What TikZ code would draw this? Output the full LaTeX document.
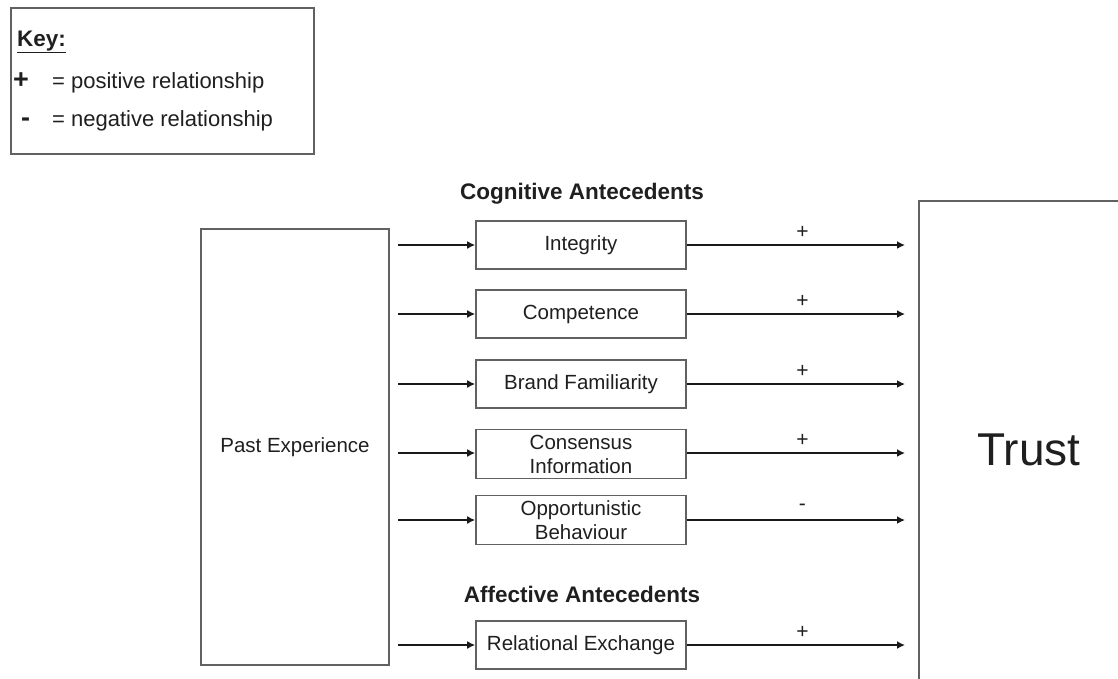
\documentclass[tikz,border=0pt]{standalone}
\usepackage{fontspec}
\setmainfont{Liberation Sans}
\usetikzlibrary{arrows.meta,calc}
\begin{document}
\begin{tikzpicture}[x=1pt,y=-1pt,
  every node/.style={text=black!88},
  boxline/.style={draw=black!62,line width=1.6pt},
  boxfont/.style={font=\fontsize{20.5}{24}\selectfont},
  midbox/.style={boxline,boxfont,minimum width=210pt,minimum height=48pt,inner sep=0pt,align=center},
  arr/.style={line width=2.4pt,black!90,-{Latex[length=8pt,width=8pt]}},
  sign/.style={font=\fontsize{21}{21}\selectfont},
  head/.style={font=\fontsize{22.5}{24}\selectfont\bfseries}]
\useasboundingbox (0,0) rectangle (1118,678);
% key
\node[boxline,minimum width=303pt,minimum height=146pt,anchor=north west] (key) at (10,7) {};
\node[anchor=west,inner sep=0pt,font=\fontsize{22.5}{24}\selectfont\bfseries] (keyt) at (17,42) {\underline{Key:}};
\node[anchor=base west,inner sep=0pt,font=\fontsize{27}{28}\selectfont\bfseries] (kps) at (13,88) {+};
\node[anchor=base west,inner sep=0pt,font=\fontsize{22}{24}\selectfont] (kp) at (52,88) {= positive relationship};
\node[anchor=base west,inner sep=0pt,font=\fontsize{27}{28}\selectfont\bfseries] (kns) at (21,126) {-};
\node[anchor=base west,inner sep=0pt,font=\fontsize{22}{24}\selectfont] (kn) at (52,126) {= negative relationship};
% past experience
\node[boxline,boxfont,minimum width=188pt,minimum height=436pt] (past) at (295,447) {Past Experience};
% trust
\draw[boxline] (1125,201) -- (919,201) -- (919,685);
\node[font=\fontsize{46}{46}\selectfont] (trust) at (1029,450) {Trust};
% headings
\node[head] (cog) at (582,194) {Cognitive Antecedents};
\node[head] (aff) at (582,594) {Affective Antecedents};
% middle boxes
\node[midbox] (int) at (581,245) {Integrity};
\node[midbox] (com) at (581,314) {Competence};
\node[midbox] (bra) at (581,384) {Brand Familiarity};
\node[midbox,minimum height=49pt] (con) at (581,454) {Consensus\\Information};
\node[midbox,minimum height=49pt] (opp) at (581,520) {Opportunistic\\Behaviour};
\node[midbox] (rel) at (581,645) {Relational Exchange};
% arrow endpoints
\foreach \n/\y in {int/245,com/314,bra/384,con/453,opp/520,rel/645}{
  \coordinate (s\n) at (398,\y);
  \coordinate (e\n) at (905,\y);
  \draw[arr] (s\n) -- (\n.west |- s\n);
  \draw[arr] (\n.east |- s\n) -- (e\n);
}
\foreach \n/\s in {int/+,com/+,bra/+,con/+,rel/+}{
  \node[sign] at ($(\n.east |- s\n)!0.53!(e\n)+(0,-13)$) {\s};
}
\node[sign] at ($(opp.east)!0.53!(eopp)+(0,-13)$) {-};
\end{tikzpicture}
\end{document}
